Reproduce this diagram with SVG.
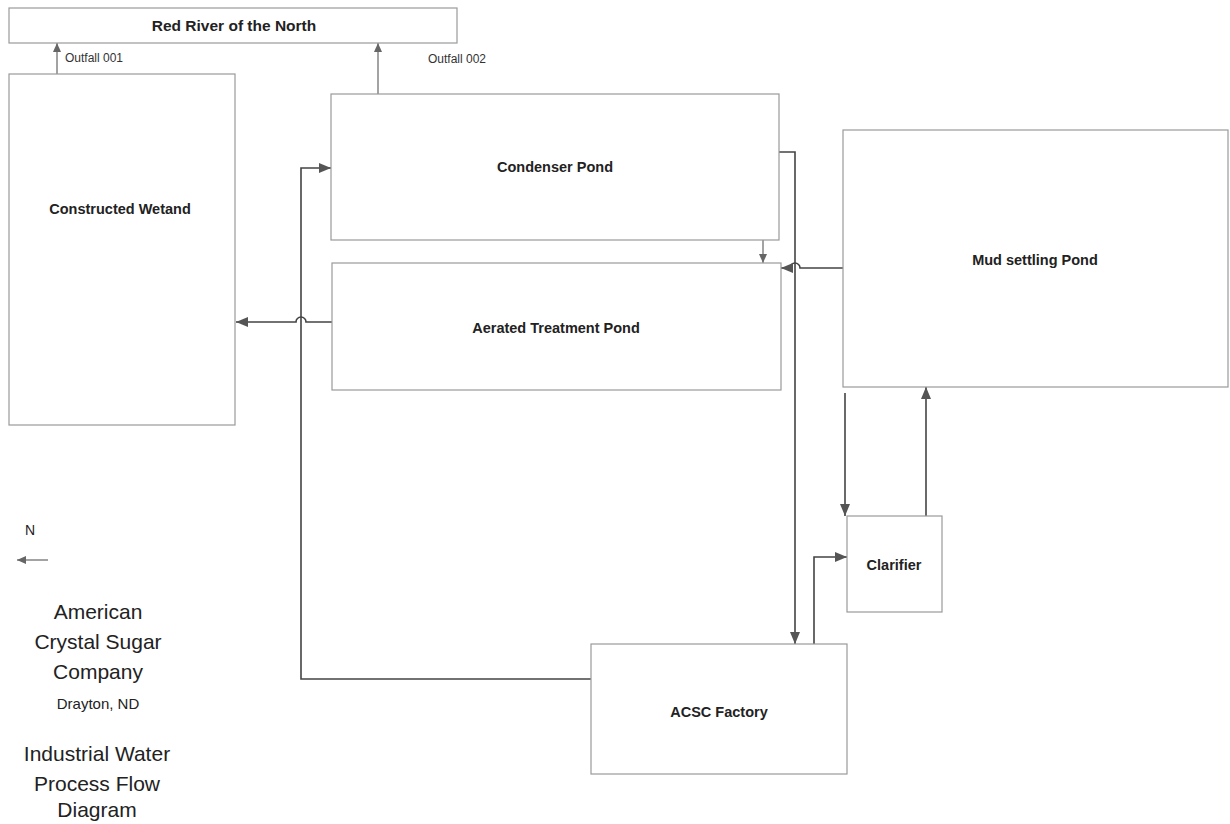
<svg xmlns="http://www.w3.org/2000/svg" width="1230" height="824" viewBox="0 0 1230 824">
<style>
.box{fill:#fff;stroke:#9a9a9a;stroke-width:1.2}
.lbl{font-family:"Liberation Sans",Arial,sans-serif;font-weight:bold;font-size:14.5px;fill:#222;text-anchor:middle}
.small{font-family:"Liberation Sans",Arial,sans-serif;font-size:12px;fill:#333}
.title{font-family:"Liberation Sans",Arial,sans-serif;font-size:21px;fill:#222;text-anchor:middle}
.conn{fill:none;stroke:#444;stroke-width:1.6}
.thin{fill:none;stroke:#666;stroke-width:1.2}
</style>
<defs>
<marker id="ah" markerUnits="userSpaceOnUse" markerWidth="14" markerHeight="12" refX="12" refY="5" orient="auto">
<path d="M0,0 L12,5 L0,10 Z" fill="#555"/>
</marker>
<marker id="ahs" markerUnits="userSpaceOnUse" markerWidth="10" markerHeight="10" refX="9" refY="4" orient="auto">
<path d="M0,0 L9,4 L0,8 Z" fill="#666"/>
</marker>
</defs>
<rect width="1230" height="824" fill="#fff"/>
<g id="connectors">
<path class="thin" d="M57,74 V43" marker-end="url(#ahs)"/>
<path class="thin" d="M378,94 V43" marker-end="url(#ahs)"/>
<path class="conn" d="M592,679 H301 V168 H331" marker-end="url(#ah)"/>
<path class="conn" d="M332,322 H306 A5,5 0 0 0 296,322 H236" marker-end="url(#ah)"/>
<path class="conn" d="M779,152 H795 V644" marker-end="url(#ah)"/>
<path class="thin" d="M763,240 V263" marker-end="url(#ahs)"/>
<path class="conn" d="M843,268 H800 A5,5 0 0 0 790,268 H781" marker-end="url(#ah)"/>
<path class="conn" d="M845,393 V516" marker-end="url(#ah)"/>
<path class="conn" d="M926,516 V387" marker-end="url(#ah)"/>
<path class="conn" d="M814,644 V557 H847" marker-end="url(#ah)"/>
<path class="thin" d="M48,560 H17" marker-end="url(#ahs)"/>
</g>
<g id="red-river">
<rect class="box" x="9" y="8" width="448" height="35"/>
<text class="lbl" x="234" y="31" style="font-size:15.5px">Red River of the North</text>
</g>
<g id="outfall-labels">
<text class="small" x="65" y="62">Outfall 001</text>
<text class="small" x="428" y="63">Outfall 002</text>
</g>
<g id="wetland">
<rect class="box" x="9" y="74" width="226" height="351"/>
<text class="lbl" x="120" y="214">Constructed Wetand</text>
</g>
<g id="condenser">
<rect class="box" x="331" y="94" width="448" height="146"/>
<text class="lbl" x="555" y="172">Condenser Pond</text>
</g>
<g id="aerated">
<rect class="box" x="332" y="263" width="449" height="127"/>
<text class="lbl" x="556" y="333">Aerated Treatment Pond</text>
</g>
<g id="mud">
<rect class="box" x="843" y="130" width="385" height="257"/>
<text class="lbl" x="1035" y="265">Mud settling Pond</text>
</g>
<g id="clarifier">
<rect class="box" x="847" y="516" width="95" height="96"/>
<text class="lbl" x="894" y="570">Clarifier</text>
</g>
<g id="factory">
<rect class="box" x="591" y="644" width="256" height="130"/>
<text class="lbl" x="719" y="717">ACSC Factory</text>
</g>
<g id="legend">
<text x="30" y="535" style="font-family:'Liberation Sans',Arial,sans-serif;font-size:14px;fill:#222;text-anchor:middle">N</text>
<text class="title" x="98" y="619">American</text>
<text class="title" x="98" y="649">Crystal Sugar</text>
<text class="title" x="98" y="679">Company</text>
<text x="98" y="709" style="font-family:'Liberation Sans',Arial,sans-serif;font-size:15px;fill:#222;text-anchor:middle">Drayton, ND</text>
<text class="title" x="97" y="761">Industrial Water</text>
<text class="title" x="97" y="791">Process Flow</text>
<text class="title" x="97" y="817">Diagram</text>
</g>
</svg>
